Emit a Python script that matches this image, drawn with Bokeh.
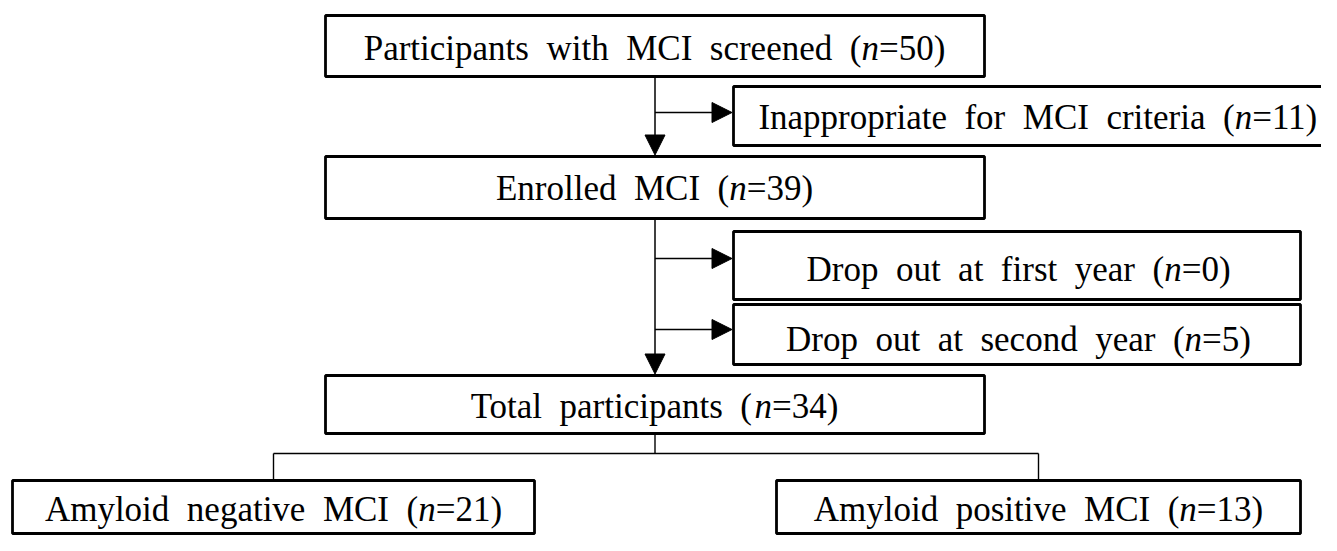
from bokeh.plotting import figure
from bokeh.models import Range1d, Arrow, NormalHead
from bokeh.embed import file_html
from bokeh.resources import INLINE
from bokeh.core.properties import value

# ---- data ----
labels = ["Participants with MCI screened", "Inappropriate for MCI criteria",
          "Enrolled MCI", "Drop out at first year", "Drop out at second year",
          "Total participants", "Amyloid negative MCI", "Amyloid positive MCI"]
counts = [50, 11, 39, 0, 5, 34, 21, 13]

# ---- layout (page pixel coordinates) ----
box_left = [325, 733, 325, 733, 733, 325, 12, 776]
box_right = [984, 1345, 984, 1300, 1300, 984, 534, 1300]
box_top = [15, 86, 156, 231, 304, 375, 480, 480]
box_bottom = [76, 145, 218, 299, 364, 433, 533, 533]
text_cx = [654, 1038, 654, 1018, 1018, 654, 273, 1038]
text_base = [59.5, 129, 200, 281, 351, 417.5, 521, 521]
side_arrow_y = [112, 258, 329]
branch_y = 453
BASE_FIX = -12   # renderer places alphabetic baseline lower than requested

FS = 35
SEP = "\u00a0 "
# Times / Liberation Serif advance widths (1/1000 em)
W = {' ': 250, '\u00a0': 250, '(': 333, ')': 333, '=': 564,
     'A': 722, 'C': 667, 'D': 722, 'E': 611, 'I': 333, 'M': 889, 'P': 556, 'T': 611,
     'a': 444, 'b': 500, 'c': 444, 'd': 500, 'e': 444, 'f': 333, 'g': 500, 'h': 500,
     'i': 278, 'l': 278, 'm': 778, 'n': 500, 'o': 500, 'p': 500, 'r': 333, 's': 389,
     't': 278, 'u': 500, 'v': 500, 'w': 722, 'y': 500}
def tw(s):
    return sum(W.get(ch, 500) for ch in s) * FS / 1000.0

p = figure(width=1321, height=535, output_backend="svg", toolbar_location=None,
           x_range=Range1d(0, 1321), y_range=Range1d(535, 0), min_border=0)
p.axis.visible = False
p.grid.visible = False
p.outline_line_color = None
p.background_fill_color = "white"
p.border_fill_color = "white"

# boxes
p.quad(left=box_left, right=box_right, top=box_top, bottom=box_bottom,
       fill_color="white", line_color="black", line_width=2.8)

# text pieces
pre_x, pre_t, n_x, suf_x, suf_t, ys = [], [], [], [], [], []
for lab, c, cx, yb in zip(labels, counts, text_cx, text_base):
    pre = SEP.join(lab.split(" ")) + SEP + "("
    suf = "=" + str(c) + ")"
    total = tw(pre) + tw("n") + tw(suf)
    x0 = cx - total / 2
    pre_x.append(x0); pre_t.append(pre)
    n_x.append(x0 + tw(pre))
    suf_x.append(x0 + tw(pre) + tw("n")); suf_t.append(suf)
    ys.append(yb + BASE_FIX)

common = dict(text_font=value("Liberation Serif"), text_font_size=value(f"{FS}px"),
              text_baseline="alphabetic", text_align="left", text_color="black")
p.text(x=pre_x, y=ys, text=pre_t, **common)
p.text(x=n_x, y=ys, text=["n"] * len(ys), text_font_style="italic", **common)
p.text(x=suf_x, y=ys, text=suf_t, **common)

# connectors
mx = (box_left[0] + box_right[0]) / 2
def arrow(x0, y0, x1, y1):
    p.add_layout(Arrow(end=NormalHead(size=20, fill_color="black", line_color="black", line_width=1),
                       x_start=x0, y_start=y0, x_end=x1, y_end=y1,
                       line_color="black", line_width=1.5))

arrow(mx, box_bottom[0], mx, box_top[2] - 1.5)
arrow(mx, box_bottom[2], mx, box_top[5] - 1.5)
for yy, tgt in zip(side_arrow_y, [1, 3, 4]):
    arrow(mx, yy, box_left[tgt] - 1.5, yy)

lc = (box_left[6] + box_right[6]) / 2
rc = (box_left[7] + box_right[7]) / 2
p.line([mx, mx], [box_bottom[5], branch_y], line_color="black", line_width=1.4)
p.line([lc, rc], [branch_y, branch_y], line_color="black", line_width=1.4)
p.line([lc, lc], [branch_y, box_top[6]], line_color="black", line_width=1.4)
p.line([rc, rc], [branch_y, box_top[7]], line_color="black", line_width=1.4)

open("out.html", "w").write(file_html(p, INLINE))
